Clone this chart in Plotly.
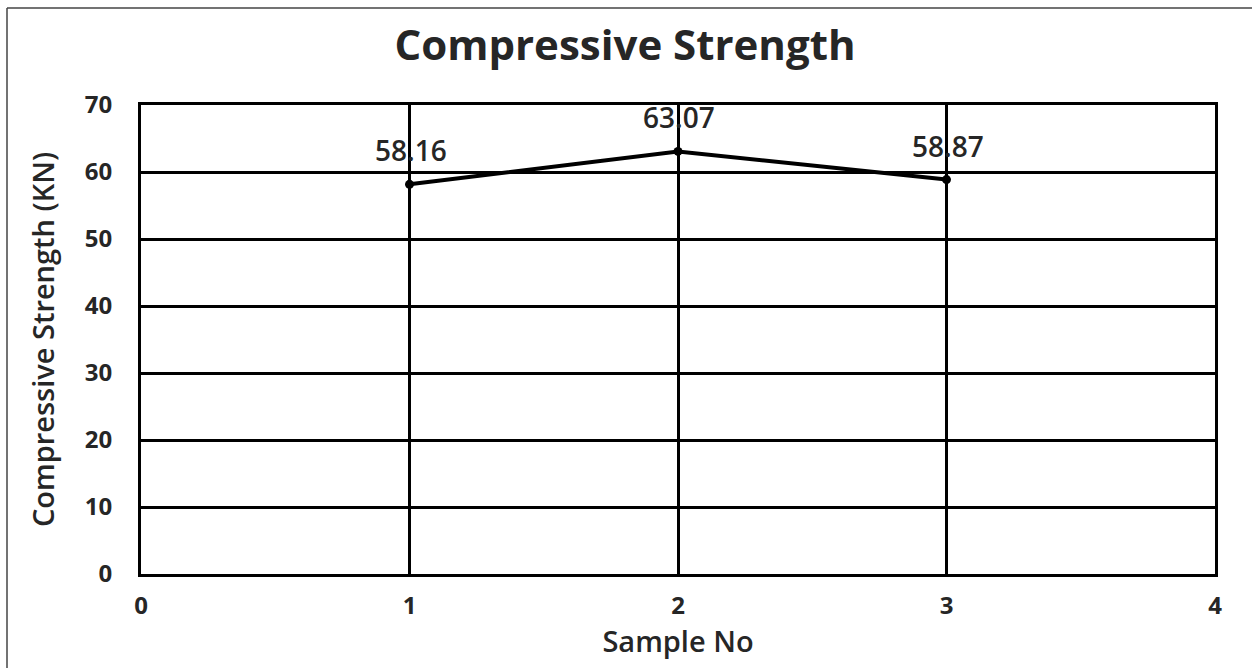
import plotly.graph_objects as go

sample_no = [1, 2, 3]
strength = [58.16, 63.07, 58.87]
labels = ["58.16", "63.07", "58.87"]
x_ticks = [0, 1, 2, 3, 4]
y_ticks = [0, 10, 20, 30, 40, 50, 60, 70]

W, H = 1252, 668
L, R, T, B = 141, 37, 105, 94
pw, ph = W - L - R, H - T - B

FONT = "Open Sans"
TXT = "#262626"

fig = go.Figure()
fig.add_trace(go.Scatter(
    x=sample_no, y=strength, mode="lines+markers",
    line=dict(color="black", width=4),
    marker=dict(color="black", size=9),
    showlegend=False, cliponaxis=False,
))

annotations = [
    dict(x=xv, y=yv, text=lab, xref="x", yref="y", showarrow=False,
         yshift=34, xshift=1, font=dict(family=FONT, size=28, color=TXT, weight=600))
    for xv, yv, lab in zip(sample_no, strength, labels)
]

px2x = lambda p: (p - L) / pw
py2y = lambda p: (H - B - p) / ph

fig.update_layout(
    width=W, height=H,
    margin=dict(l=L, r=R, t=T, b=B),
    paper_bgcolor="white", plot_bgcolor="white",
    title=dict(text="Compressive Strength", x=625 / W, xref="container", xanchor="center",
               y=1 - 45 / H, yref="container", yanchor="middle",
               font=dict(family=FONT, size=42, color=TXT, weight=700)),
    xaxis=dict(range=[0, 4], tickvals=x_ticks, showgrid=True, gridcolor="black", gridwidth=2.5,
               zeroline=False, showline=True, linecolor="black", linewidth=3, mirror=True,
               ticks="", ticklabelstandoff=8, tickfont=dict(family=FONT, size=24, color=TXT, weight=700),
               title=dict(text="Sample No", standoff=4,
                          font=dict(family=FONT, size=29, color=TXT, weight=600))),
    yaxis=dict(range=[0, 70], tickvals=y_ticks, showgrid=True, gridcolor="black", gridwidth=2.5,
               zeroline=False, showline=True, linecolor="black", linewidth=3, mirror=True,
               ticks="", ticklabelstandoff=21, tickfont=dict(family=FONT, size=24, color=TXT, weight=700),
               title=dict(text="Compressive Strength (KN)", standoff=22,
                          font=dict(family=FONT, size=29, color=TXT, weight=600))),
    annotations=annotations,
    shapes=[
        dict(type="line", xref="paper", yref="paper", x0=px2x(7), x1=px2x(7), y0=py2y(700), y1=py2y(8),
             line=dict(color="#444", width=1.5)),
        dict(type="line", xref="paper", yref="paper", x0=px2x(7), x1=px2x(1260), y0=py2y(8), y1=py2y(8),
             line=dict(color="#444", width=1.5)),
    ],
)

fig.write_html("out.html", config={"displayModeBar": False},
               post_script="document.body.style.margin='0';")
